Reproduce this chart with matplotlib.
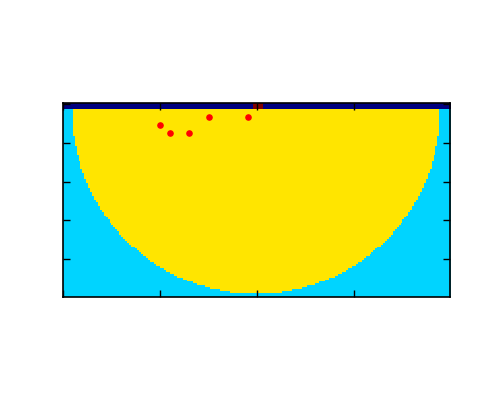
"""Cell-type map of a half-disk domain with tracer particles."""

import numpy as np
import matplotlib
matplotlib.use("Agg")
import matplotlib.pyplot as plt

# grid layout (rows x cols) and cell type codes
NROWS = 100
NCOLS = 200
WALL, FLUID_OUT, FLUID_IN, LID = 0, 1, 2, 3

# half-disk
disk_center = (99.0, 3.0)   # (col, row)
disk_radius = 94.9
wall_rows = 3
lid_cols = [98, 99, 100, 101, 102]

# tracer particles (col, row)
particle_x = [50, 55, 65, 75, 95]
particle_y = [11, 15, 15, 6.5, 6.5]

x_ticks = [0, 50, 100, 150]
y_ticks = [0, 20, 40, 60, 80]


def build_grid():
    rows, cols = np.mgrid[0:NROWS, 0:NCOLS]
    grid = np.full((NROWS, NCOLS), FLUID_OUT)
    inside = (cols - disk_center[0]) ** 2 + (rows - disk_center[1]) ** 2 <= disk_radius ** 2
    grid[inside] = FLUID_IN
    grid[:wall_rows, :] = WALL
    grid[:wall_rows, lid_cols] = LID
    return grid


grid = build_grid()

fig = plt.figure(figsize=(5, 4), dpi=100)
ax = fig.add_axes([0.125, 0.2575, 0.775, 0.485])
ax.imshow(grid, cmap="jet", vmin=0, vmax=3, interpolation="nearest", aspect="equal")
ax.scatter(particle_x, particle_y, s=14, color="red", zorder=3)

ax.set_xlim(-0.5, NCOLS - 0.5)
ax.set_ylim(NROWS - 0.5, -0.5)
ax.set_xticks(x_ticks)
ax.set_yticks(y_ticks)
ax.set_xticklabels([])
ax.set_yticklabels([])
ax.tick_params(direction="in", length=5, width=1, top=True, right=True, color="black")
for spine in ax.spines.values():
    spine.set_linewidth(1.2)

fig.savefig("out.png", dpi=100)
